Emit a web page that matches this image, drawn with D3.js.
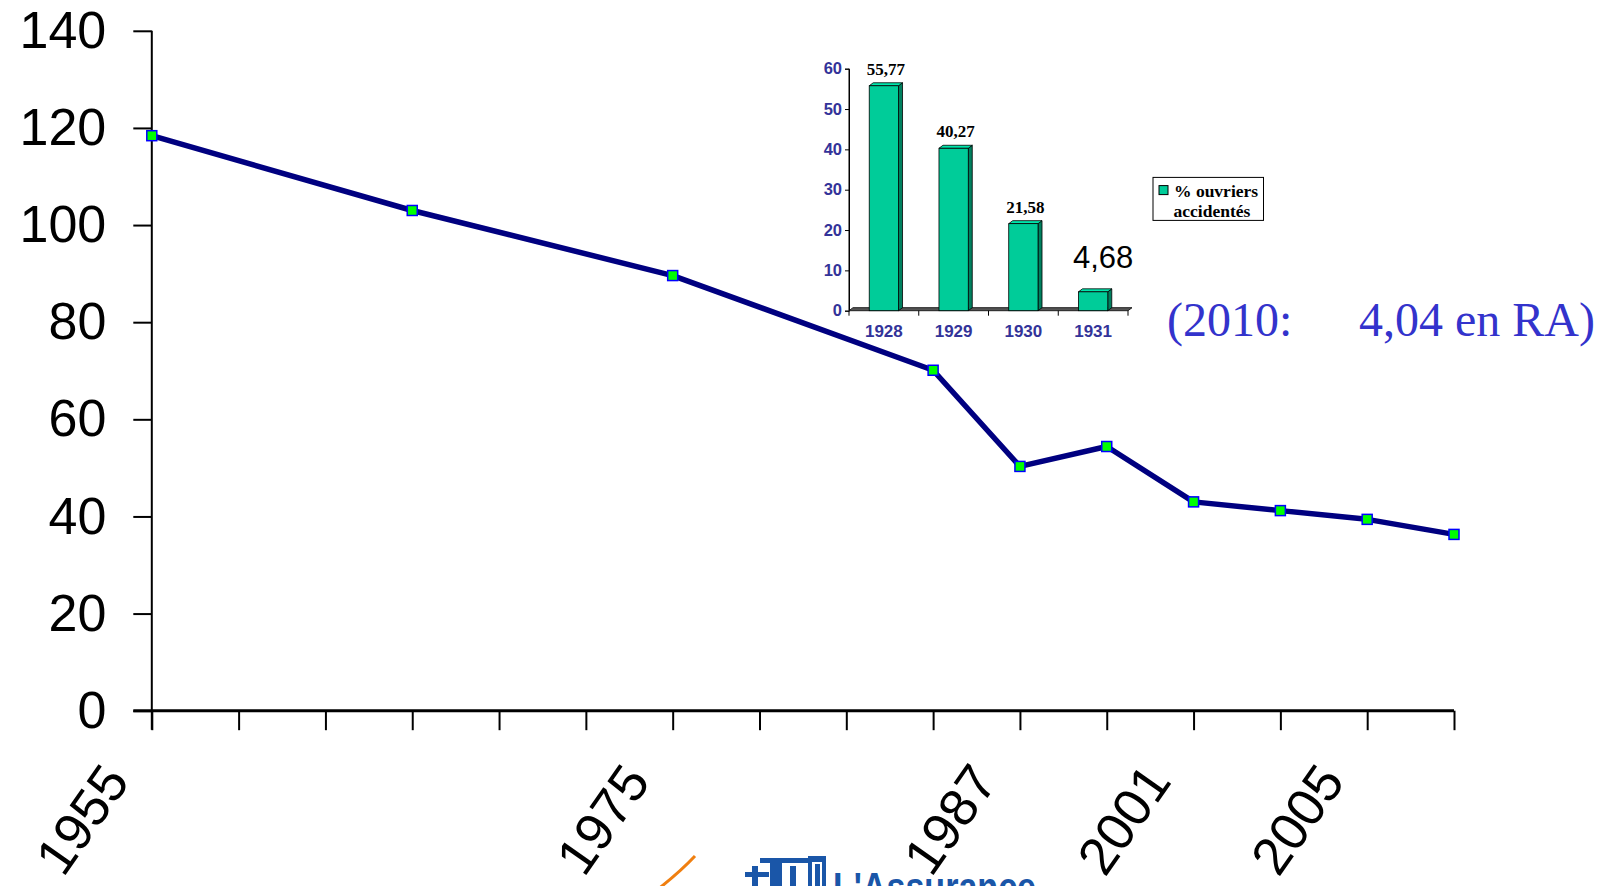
<!DOCTYPE html>
<html>
<head>
<meta charset="utf-8">
<script src="https://cdn.jsdelivr.net/npm/d3@7"></script>
<style>
  body { margin: 0; background: #fff; }
  svg { display: block; }
</style>
</head>
<body>
<div id="chart"></div>
<script>
// main series : one slot per category tick, null where no point
const tickLabels = ["1955", "", "", "", "", "", "1975", "", "", "", "1987", "", "2001", "", "2005", ""];
const values = [118.4, null, null, 103.0, null, null, 89.6, null, null, 70.1, 50.3, 54.4, 43.0, 41.2, 39.4, 36.3];
const yTicks = [0, 20, 40, 60, 80, 100, 120, 140];

// inset bar chart
const insetYears = ["1928", "1929", "1930", "1931"];
const insetValues = [55.77, 40.27, 21.58, 4.68];
const insetLabels = ["55,77", "40,27", "21,58", "4,68"];
const insetTicks = [0, 10, 20, 30, 40, 50, 60];
const legendLines = ["% ouvriers", "accidentés"];

const width = 1608, height = 886;
const margin = { left: 151.8, right: 154, top: 30.8, bottom: 175.3 };

const svg = d3.select("#chart").append("svg")
  .attr("width", width)
  .attr("height", height);

/** SCALES */
const xScale = d3.scalePoint()
  .domain(d3.range(tickLabels.length))
  .range([margin.left, width - margin.right]);

const yScale = d3.scaleLinear()
  .domain([0, 140])
  .range([height - margin.bottom, margin.top]);

/** AXES */
const yAxis = d3.axisLeft(yScale).tickValues(yTicks).tickSize(18.5).tickPadding(27);
svg.append("g")
  .attr("transform", `translate(${margin.left},0)`)
  .call(yAxis)
  .call((g) => g.select(".domain").attr("stroke-width", 2).attr("d", `M0,${yScale(140)}V${yScale(0) + 19}`))
  .call((g) => g.selectAll(".tick line").attr("stroke-width", 2))
  .call((g) => g.selectAll(".tick text")
    .attr("font-family", "Liberation Sans, Arial, sans-serif")
    .attr("font-size", 52)
    .attr("fill", "#000"));

const xAxis = d3.axisBottom(xScale).tickSize(19.5).tickFormat(() => "");
const xg = svg.append("g")
  .attr("transform", `translate(0,${yScale(0)})`)
  .call(xAxis);
xg.select(".domain").attr("stroke-width", 3).attr("d", `M${margin.left - 18.5},0H${width - margin.right}`);
xg.selectAll(".tick line").attr("stroke-width", 2);

// rotated category labels
svg.append("g")
  .selectAll("text")
  .data(tickLabels.map((t, i) => ({ t, i })).filter((d) => d.t !== ""))
  .join("text")
  .attr("transform", (d) => `translate(${xScale(d.i) - 21},${yScale(0) + 71}) rotate(-55)`)
  .attr("text-anchor", "end")
  .attr("font-family", "Liberation Sans, Arial, sans-serif")
  .attr("font-size", 53)
  .attr("fill", "#000")
  .text((d) => d.t);

/** LINE */
const points = values.map((v, i) => ({ i, v })).filter((d) => d.v !== null);
const line = d3.line().x((d) => xScale(d.i)).y((d) => yScale(d.v));

svg.append("path")
  .datum(points)
  .attr("d", line)
  .attr("fill", "none")
  .attr("stroke", "#000080")
  .attr("stroke-width", 5.5)
  .attr("stroke-linejoin", "round");

svg.selectAll("rect.marker")
  .data(points)
  .join("rect")
  .attr("class", "marker")
  .attr("x", (d) => xScale(d.i) - 5)
  .attr("y", (d) => yScale(d.v) - 5)
  .attr("width", 10)
  .attr("height", 10)
  .attr("fill", "#00ff00")
  .attr("stroke", "#0000ff")
  .attr("stroke-width", 1.5);

/** INSET BAR CHART */
const inX = d3.scaleBand()
  .domain(insetYears)
  .range([849, 1128])
  .paddingInner(0.58)
  .paddingOuter(0.29);
const inY = d3.scaleLinear().domain([0, 60]).range([310.7, 68.7]);
const depthX = 4, depthY = 3;

const inset = svg.append("g");
const inYAxis = d3.axisLeft(inY).tickValues(insetTicks).tickSize(4).tickPadding(3);
inset.append("g")
  .attr("transform", "translate(849,0)")
  .call(inYAxis)
  .call((g) => g.selectAll("text")
    .attr("font-family", "Liberation Sans, Arial, sans-serif")
    .attr("font-weight", "bold")
    .attr("font-size", 16.5)
    .attr("fill", "#333399"));

// floor of the 3D plot
inset.append("path")
  .attr("d", `M849,${inY(0)}L1128,${inY(0)}L${1128 + depthX},${inY(0) - depthY}L${849 + depthX},${inY(0) - depthY}Z`)
  .attr("fill", "#555")
  .attr("stroke", "#222")
  .attr("stroke-width", 1);

// x ticks at band edges
inset.selectAll("line.xt")
  .data(d3.range(insetYears.length + 1))
  .join("line")
  .attr("class", "xt")
  .attr("x1", (i) => 849 + i * inX.step())
  .attr("x2", (i) => 849 + i * inX.step())
  .attr("y1", inY(0))
  .attr("y2", inY(0) + 5)
  .attr("stroke", "#000");

const bars = inset.selectAll("g.bar")
  .data(insetValues)
  .join("g")
  .attr("class", "bar");

bars.append("path") // side
  .attr("d", (d, i) => {
    const x = inX(insetYears[i]) + inX.bandwidth();
    return `M${x},${inY(d)}L${x + depthX},${inY(d) - depthY}L${x + depthX},${inY(0) - depthY}L${x},${inY(0)}Z`;
  })
  .attr("fill", "#00805f")
  .attr("stroke", "#000")
  .attr("stroke-width", 0.8);
bars.append("path") // top
  .attr("d", (d, i) => {
    const x = inX(insetYears[i]);
    const w = inX.bandwidth();
    return `M${x},${inY(d)}L${x + depthX},${inY(d) - depthY}L${x + w + depthX},${inY(d) - depthY}L${x + w},${inY(d)}Z`;
  })
  .attr("fill", "#00e6ac")
  .attr("stroke", "#000")
  .attr("stroke-width", 0.8);
bars.append("rect") // front
  .attr("x", (d, i) => inX(insetYears[i]))
  .attr("y", (d) => inY(d))
  .attr("width", inX.bandwidth())
  .attr("height", (d) => inY(0) - inY(d))
  .attr("fill", "#00cc99")
  .attr("stroke", "#000")
  .attr("stroke-width", 0.8);

// y axis line drawn over floor
inset.append("line")
  .attr("x1", 849).attr("x2", 849)
  .attr("y1", inY(60)).attr("y2", inY(0))
  .attr("stroke", "#000");

// category labels
inset.selectAll("text.cat")
  .data(insetYears)
  .join("text")
  .attr("class", "cat")
  .attr("x", (d) => inX(d) + inX.bandwidth() / 2)
  .attr("y", 337)
  .attr("text-anchor", "middle")
  .attr("font-family", "Liberation Sans, Arial, sans-serif")
  .attr("font-weight", "bold")
  .attr("font-size", 17)
  .attr("fill", "#333399")
  .text((d) => d);

// value labels (last one was restyled on the slide)
inset.selectAll("text.val")
  .data(insetLabels)
  .join("text")
  .attr("class", "val")
  .attr("x", (d, i) => inX(insetYears[i]) + inX.bandwidth() / 2 + (i === 3 ? 10 : 2))
  .attr("y", (d, i) => (i === 3 ? 267.7 : inY(insetValues[i]) - 11))
  .attr("text-anchor", "middle")
  .attr("font-family", (d, i) => (i === 3 ? "Liberation Sans, Arial, sans-serif" : "Liberation Serif, Times New Roman, serif"))
  .attr("font-weight", (d, i) => (i === 3 ? "normal" : "bold"))
  .attr("font-size", (d, i) => (i === 3 ? 31 : 17))
  .attr("fill", "#000")
  .text((d) => d);

// legend
const legend = inset.append("g");
legend.append("rect")
  .attr("x", 1153).attr("y", 177.4)
  .attr("width", 110.5).attr("height", 43)
  .attr("fill", "#fff").attr("stroke", "#000");
legend.append("rect")
  .attr("x", 1159).attr("y", 185.6)
  .attr("width", 9).attr("height", 9)
  .attr("fill", "#00cc99").attr("stroke", "#000");
legend.selectAll("text")
  .data(legendLines)
  .join("text")
  .attr("x", (d, i) => (i === 0 ? 1174 : 1173.5))
  .attr("y", (d, i) => 196.5 + i * 20)
  .attr("font-family", "Liberation Serif, Times New Roman, serif")
  .attr("font-weight", "bold")
  .attr("font-size", 17.5)
  .attr("fill", "#000")
  .text((d) => d);

// note
const note = svg.append("text")
  .attr("y", 336)
  .attr("font-family", "Liberation Serif, Times New Roman, serif")
  .attr("font-size", 48)
  .attr("fill", "#3333cc");
note.append("tspan").attr("x", 1167).text("(2010:");
note.append("tspan").attr("x", 1359).text("4,04 en RA)");

/** LOGO at the bottom edge (cut off on the slide) */
svg.append("path")
  .attr("d", "M657,890 Q680,872 695,856")
  .attr("fill", "none")
  .attr("stroke", "#f07f10")
  .attr("stroke-width", 3);

const logo = svg.append("g").attr("fill", "#1a56a8");
logo.append("rect").attr("x", 752).attr("y", 866).attr("width", 6).attr("height", 20);
logo.append("rect").attr("x", 760).attr("y", 858).attr("width", 50).attr("height", 5);
logo.append("rect").attr("x", 770).attr("y", 862).attr("width", 12).attr("height", 24);
logo.append("rect").attr("x", 745).attr("y", 872).attr("width", 24).attr("height", 5);
logo.append("rect").attr("x", 790).attr("y", 866).attr("width", 6).attr("height", 20);
logo.append("rect").attr("x", 808).attr("y", 856).attr("width", 18).attr("height", 30);
logo.append("rect").attr("x", 812).attr("y", 862).attr("width", 10).attr("height", 24).attr("fill", "#fff");
logo.append("rect").attr("x", 815).attr("y", 864).attr("width", 5).attr("height", 22);
logo.append("text")
  .attr("x", 833)
  .attr("y", 901)
  .attr("font-family", "Liberation Sans, Arial, sans-serif")
  .attr("font-weight", "bold")
  .attr("font-size", 40)
  .attr("textLength", 203)
  .attr("lengthAdjust", "spacingAndGlyphs")
  .text("L'Assurance");
</script>
</body>
</html>
